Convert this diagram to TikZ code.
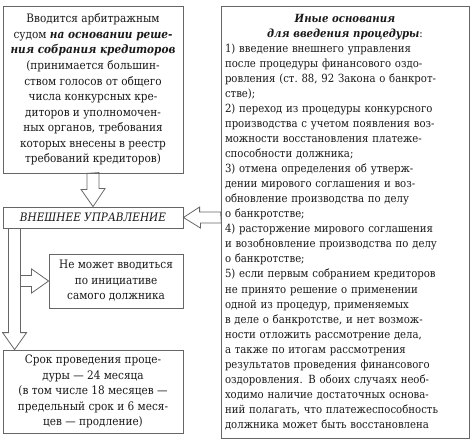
\documentclass[tikz,border=0pt]{standalone}
\usepackage{fontspec}
\setmainfont{DejaVu Serif Condensed}
\usetikzlibrary{calc}

\begin{document}
\begin{tikzpicture}[x=1bp, y=-1bp, line width=0.8bp,
    box/.style={draw=black!60, text=black!90, inner sep=0pt, align=center, font=\fontsize{11.7}{15.6}\selectfont},
    hollow/.style={draw=black!60, line join=miter}]
    \useasboundingbox (0,0) rectangle (474,441);

    \node[box, minimum width=180bp, minimum height=167bp] at (93, 89.5) (basis) {Вводится арбитражным\\судом \textbf{\textit{на основании реше-}}\\\textbf{\textit{ния собрания кредиторов}}\\(принимается большин-\\ством голосов от общего\\числа конкурсных кре-\\диторов и уполномочен-\\ных органов, требования\\которых внесены в реестр\\требований кредиторов)};
    \node[box, minimum width=180bp, minimum height=21bp] at (93, 217.5) (ext) {\textit{ВНЕШНЕЕ УПРАВЛЕНИЕ}};
    \node[box, minimum width=134bp, minimum height=54bp] at (116, 281) (nomay) {Не может вводиться\\по инициативе\\самого должника};
    \node[box, minimum width=180bp, minimum height=83bp] at (93, 391.5) (term) {Срок проведения проце-\\дуры — 24 месяца\\(в том числе 18 месяцев —\\предельный срок и 6 меся-\\цев — продление)};

    \node[box, align=left, text width=240bp, inner sep=4bp, minimum height=432bp, font=\fontsize{11.3}{15.1}\selectfont] at (345, 222) (other) {\makebox[240bp][c]{\textbf{\textit{Иные основания}}}\\
    \makebox[240bp][c]{\textbf{\textit{для введения процедуры}}:}\\
    1) введение внешнего управления\\
    после процедуры финансового оздо-\\
    ровления (ст.~88, 92 Закона о банкрот-\\
    стве);\\
    2) переход из процедуры конкурсного\\
    производства с учетом появления воз-\\
    можности восстановления платеже-\\
    способности должника;\\
    3) отмена определения об утверж-\\
    дении мирового соглашения и воз-\\
    обновление производства по делу\\
    о банкротстве;\\
    4) расторжение мирового соглашения\\
    и возобновление производства по делу\\
    о банкротстве;\\
    5) если первым собранием кредиторов\\
    не принято решение о применении\\
    одной из процедур, применяемых\\
    в деле о банкротстве, и нет возмож-\\
    ности отложить рассмотрение дела,\\
    а также по итогам рассмотрения\\
    результатов проведения финансового\\
    оздоровления. В обоих случаях необ-\\
    ходимо наличие достаточных основа-\\
    ний полагать, что платежеспособность\\
    должника может быть восстановлена};

    % hollow arrows
    \draw[hollow] ($(basis.south)+(-6,0)$) -- ++(0,16) -- ++(-6,0) -- (ext.north) -- ++(12,-18) -- ++(-6,0) -- ++(0,-16) -- cycle;
    \draw[hollow] ($(other.west |- ext.east)+(0,-5.5)$) -- ++(-21,0) -- ++(0,-5) -- (ext.east) -- ++(17,10.5) -- ++(0,-5) -- ++(21,0) -- cycle;
    \draw[hollow] ($(ext.south west)+(6,0)$) -- ($(term.north west)+(6,-17)$) -- ++(-6,0) -- ($(term.north west)+(12,0)$) -- ++(12,-17) -- ++(-6,0) -- ($(ext.south west)+(18,0)$) -- cycle;
    \draw[hollow] ($(nomay.west)+(-28,-5.5)$) -- ++(11,0) -- ++(0,-6.5) -- (nomay.west) -- ++(-17,12) -- ++(0,-6.5) -- ++(-11,0);

\end{tikzpicture}
\end{document}
